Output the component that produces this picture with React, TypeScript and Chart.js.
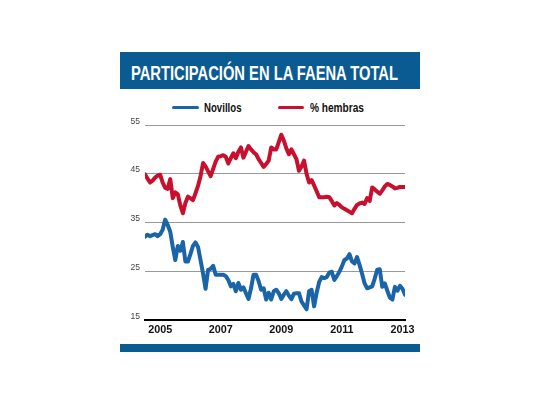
import React, { useEffect, useRef } from "react";
import { Chart, registerables } from "chart.js";

Chart.register(...registerables);

// ---- data ----
const titleText = "PARTICIPACIÓN EN LA FAENA TOTAL";
const seriesNames = ["Novillos", "% hembras"];
const seriesColors = ["#1a64a8", "#c8102e"];
const startYear = 2004;
const startMonth = 7; // first monthly point: July 2004
const yearTicks = [2005, 2007, 2009, 2011, 2013];
const yTicks = [15, 25, 35, 45, 55];

const novillos = [
  32.1, 32.5, 32.2, 32.4, 32.6, 32.2, 32.6, 33.5, 35.6, 34.5,
  33.1, 30.0, 27.3, 30.2, 29.2, 31.0, 27.0, 27.0, 28.5, 30.2,
  30.9, 30.0, 27.3, 24.5, 21.4, 25.3, 25.5, 26.1, 24.3, 24.3,
  24.3, 24.3, 24.0, 23.2, 21.9, 22.4, 20.9, 22.6, 21.2, 21.7,
  20.5, 19.3, 21.5, 24.3, 24.3, 23.0, 21.2, 21.5, 19.2, 20.6,
  19.2, 20.9, 21.2, 20.5, 19.3, 20.2, 20.9, 20.0, 19.3, 20.4,
  20.5, 20.5, 18.8, 18.0, 17.2, 20.9, 21.2, 17.8, 20.6, 22.8,
  23.8, 23.6, 23.8, 24.7, 24.9, 23.2, 24.0, 24.9, 26.0, 27.3,
  27.6, 28.5, 27.0, 26.6, 27.9, 26.3, 24.5, 22.5, 21.5, 21.7,
  21.9, 23.5, 25.3, 25.4, 21.8, 22.5, 21.0, 19.6, 19.2, 21.8,
  21.0, 22.0, 21.4, 20.2,
];

const hembras = [
  44.9, 44.0, 43.2, 43.6, 44.2, 44.6, 44.8, 43.2, 42.1, 41.9,
  43.9, 40.0, 41.2, 40.8, 38.5, 36.9, 39.0, 40.3, 40.0, 39.6,
  41.0, 42.5, 44.5, 47.2, 46.5, 45.5, 44.5, 46.0, 47.5, 48.5,
  48.6, 48.8, 48.5, 47.1, 48.2, 49.2, 48.2, 49.5, 50.4, 48.3,
  49.5, 50.7, 50.0, 49.4, 49.0, 48.0, 47.2, 46.4, 47.0, 47.7,
  50.4, 50.0, 50.0, 51.5, 53.0, 51.8, 50.2, 49.0, 50.0, 49.0,
  48.0, 45.6, 46.5, 47.7, 45.0, 43.2, 43.7, 42.6, 41.4, 40.2,
  40.2, 40.2, 40.3, 40.2, 39.4, 38.5, 39.0, 38.6, 38.1, 37.8,
  37.5, 37.2, 36.9, 37.8, 38.6, 38.9, 39.1, 38.8, 40.0, 39.4,
  42.2, 41.8, 41.3, 40.9, 41.6, 42.4, 42.9, 42.7, 42.4, 42.0,
  42.1, 42.3, 42.3, 42.3,
];

const monthX = (i: number) => startYear + (startMonth - 1) / 12 + i / 12;

function FitText(props: { text: string; width: number; style: React.CSSProperties }) {
  const ref = useRef<HTMLSpanElement>(null);
  useEffect(() => {
    const el = ref.current;
    if (!el) return;
    el.style.transform = "none";
    const w = el.getBoundingClientRect().width;
    if (w > 0) el.style.transform = `scaleX(${props.width / w})`;
  }, [props.text, props.width]);
  return (
    <span
      ref={ref}
      style={{
        position: "absolute",
        whiteSpace: "nowrap",
        transformOrigin: "0 0",
        ...props.style,
      }}
    >
      {props.text}
    </span>
  );
}

export default function App() {
  const canvasRef = useRef<HTMLCanvasElement>(null);

  useEffect(() => {
    if (!canvasRef.current) return;
    const axisFont = "'Liberation Sans Narrow', 'Liberation Sans', Arial, sans-serif";
    const chart = new Chart(canvasRef.current, {
      type: "line",
      data: {
        datasets: [
          {
            label: seriesNames[0],
            data: novillos.map((v, i) => ({ x: monthX(i), y: v })),
            borderColor: seriesColors[0],
            backgroundColor: seriesColors[0],
            borderWidth: 4,
            pointRadius: 0,
            tension: 0,
            borderJoinStyle: "round",
            borderCapStyle: "round",
          },
          {
            label: seriesNames[1],
            data: hembras.map((v, i) => ({ x: monthX(i), y: v })),
            borderColor: seriesColors[1],
            backgroundColor: seriesColors[1],
            borderWidth: 4,
            pointRadius: 0,
            tension: 0,
            borderJoinStyle: "round",
            borderCapStyle: "round",
          },
        ],
      },
      options: {
        animation: false,
        responsive: false,
        maintainAspectRatio: false,
        layout: { padding: { left: 0, right: 15, top: 15, bottom: 0 } },
        plugins: {
          legend: { display: false },
          tooltip: { enabled: false },
        },
        scales: {
          x: {
            type: "linear",
            min: monthX(0),
            max: monthX(novillos.length - 1),
            afterBuildTicks: (s: any) => {
              s.ticks = yearTicks.map((v) => ({ value: v }));
            },
            afterFit: (s: any) => {
              s.height = 24;
            },
            ticks: {
              autoSkip: false,
              maxRotation: 0,
              padding: 4,
              color: "#111",
              font: { family: axisFont, size: 10.8, weight: "bold" },
              callback: (v: any) => String(v),
            },
            grid: { display: false, drawTicks: false },
            border: { display: true, color: "#000", width: 2 },
          },
          y: {
            min: 15,
            max: 55,
            afterBuildTicks: (s: any) => {
              s.ticks = yTicks.map((v) => ({ value: v }));
            },
            afterFit: (s: any) => {
              s.width = 45;
            },
            ticks: {
              padding: 5,
              color: "#444",
              font: { family: "'Liberation Sans', Arial, sans-serif", size: 8.6, lineHeight: 0.85 },
              callback: (v: any) => [String(v), ""],
            },
            grid: {
              drawTicks: false,
              lineWidth: 1,
              color: (ctx: any) => (ctx.tick && ctx.tick.value === 15 ? "rgba(0,0,0,0)" : "#9a9a9a"),
            },
            border: { display: false },
          },
        },
      },
    } as any);
    return () => chart.destroy();
  }, []);

  const legendFont: React.CSSProperties = {
    fontFamily: "'Liberation Sans', Arial, sans-serif",
    fontWeight: "bold",
    fontSize: "12px",
    lineHeight: "12px",
    color: "#111",
  };

  return (
    <div
      style={{
        position: "absolute",
        left: 0,
        top: 0,
        width: 540,
        height: 405,
        background: "#fff",
        overflow: "hidden",
      }}
    >
      <div
        style={{
          position: "absolute",
          left: 120,
          top: 52,
          width: 300,
          height: 37,
          background: "#0b5b93",
        }}
      >
        <FitText
          text={titleText}
          width={267}
          style={{
            left: 11,
            top: 10,
            color: "#fff",
            fontFamily: "'Liberation Sans', Arial, sans-serif",
            fontWeight: "bold",
            fontSize: "21px",
            lineHeight: "21px",
          }}
        />
      </div>

      <div style={{ position: "absolute", left: 172, top: 105.5, width: 27, height: 3.6, background: seriesColors[0], borderRadius: 2 }} />
      <FitText text={seriesNames[0]} width={37.5} style={{ left: 203.5, top: 101.5, ...legendFont }} />
      <div style={{ position: "absolute", left: 278, top: 105.5, width: 26, height: 3.6, background: seriesColors[1], borderRadius: 2 }} />
      <FitText text={seriesNames[1]} width={54} style={{ left: 310, top: 101.5, ...legendFont }} />

      <canvas
        ref={canvasRef}
        width={320}
        height={234}
        style={{ position: "absolute", left: 100, top: 110, width: 320, height: 234 }}
      />

      <div
        style={{
          position: "absolute",
          left: 120,
          top: 344,
          width: 300,
          height: 8,
          background: "#0b5b93",
        }}
      />
    </div>
  );
}
